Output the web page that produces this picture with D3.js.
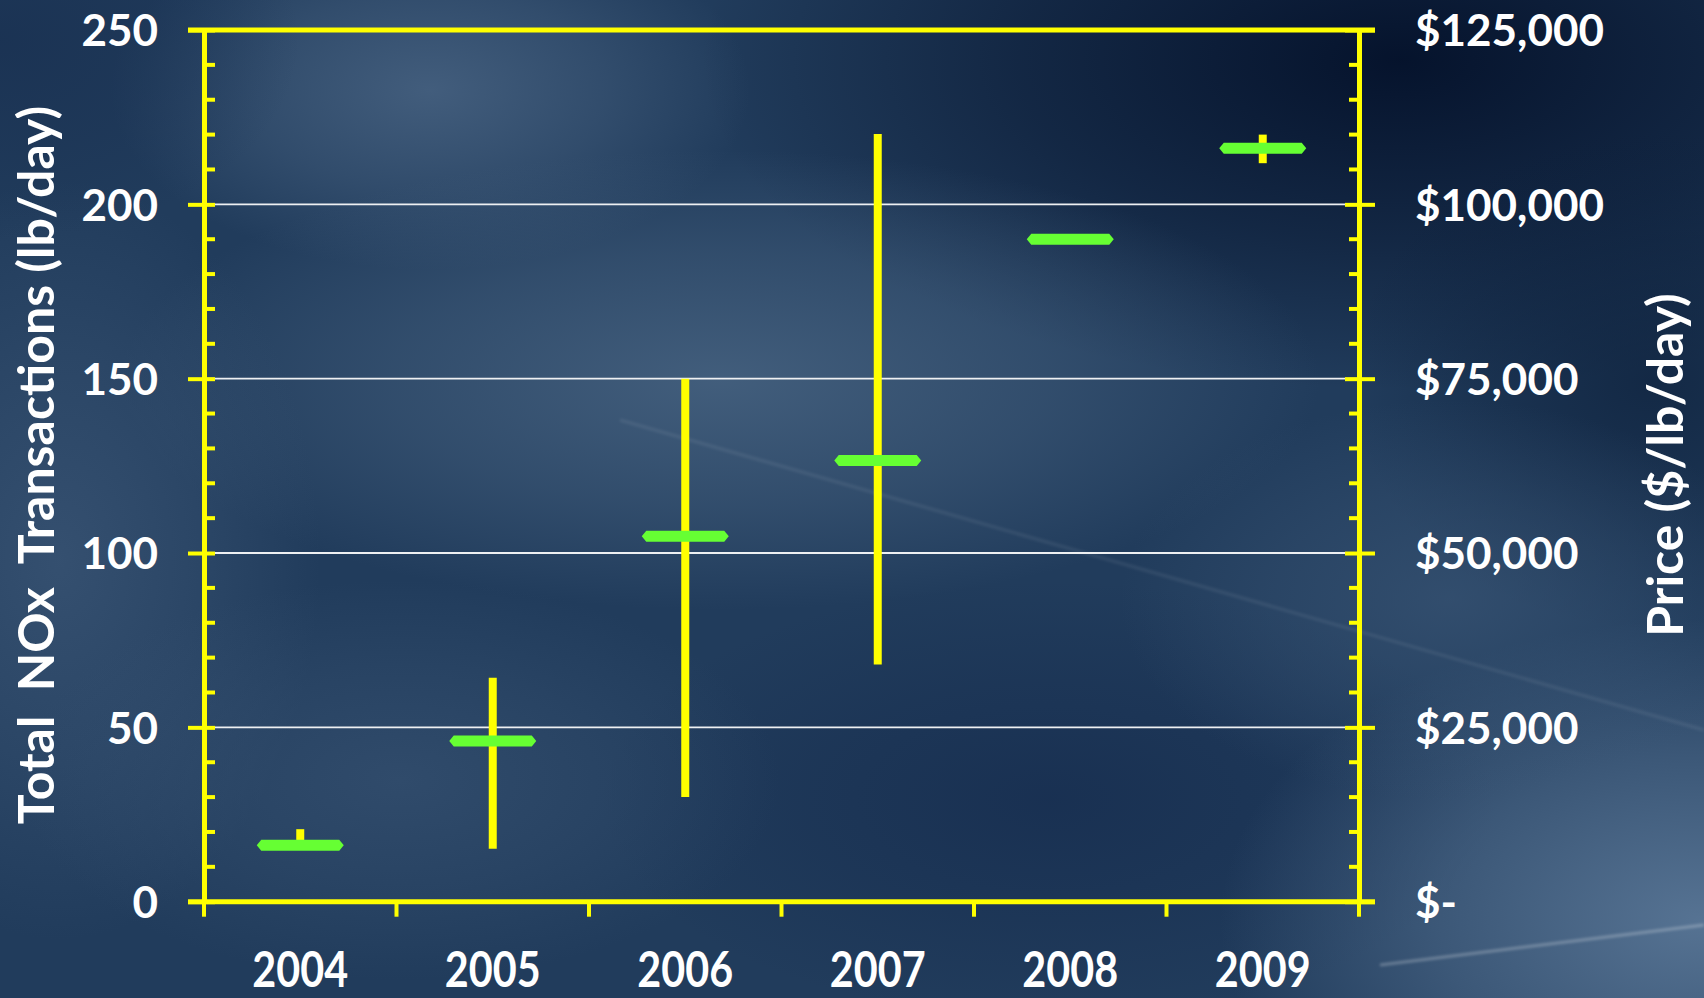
<!DOCTYPE html>
<html>
<head>
<meta charset="utf-8">
<script src="https://cdn.jsdelivr.net/npm/d3@7"></script>
<style>
  html, body { margin: 0; padding: 0; background: #1f3959; }
  svg { display: block; }
  text { font-family: Lato, "Open Sans", sans-serif; font-weight: 700; fill: #fff; }
</style>
</head>
<body>
<div id="chart"></div>
<script>
const years = ["2004", "2005", "2006", "2007", "2008", "2009"];
// green markers, left axis (lb/day)
const totalNOx = [16.2, 46.1, 104.8, 126.5, 190, 216.1];
// yellow high-low lines, right axis ($/lb/day)
const priceLow = [8850, 7600, 15000, 34000, 95000, 105900];
const priceHigh = [10400, 32100, 75000, 110100, 95000, 110000];
const leftTicks = [0, 50, 100, 150, 200, 250];
const rightTicks = [0, 25000, 50000, 75000, 100000, 125000];

const width = 1704;
const height = 998;
const plotLeft = 204, plotRight = 1359, plotTop = 30, plotBottom = 901.7;

const svg = d3.select("#chart").append("svg")
  .attr("width", width)
  .attr("height", height);

// background: soft radial blobs
const defs = svg.append("defs");
defs.append("filter").attr("id", "soft")
  .append("feGaussianBlur").attr("stdDeviation", 1.5);

const bg = svg.append("g");
bg.append("rect").attr("width", width).attr("height", height).attr("fill", "#213c5c");
const blobs = [
  { cx: 1400, cy: 60, rx: 700, ry: 330, fill: "#04112a", o: 0.95 },
  { cx: 1650, cy: 380, rx: 300, ry: 250, fill: "#0a1c36", o: 0.6 },
  { cx: 430, cy: 90, rx: 320, ry: 180, fill: "#4d6887", o: 0.75 },
  { cx: 720, cy: 380, rx: 600, ry: 230, fill: "#4a6684", o: 0.8 },
  { cx: 1050, cy: 800, rx: 450, ry: 220, fill: "#12274a", o: 0.55 },
  { cx: 1700, cy: 920, rx: 480, ry: 300, fill: "#5c7999", o: 0.9 },
  { cx: 1450, cy: 600, rx: 330, ry: 200, fill: "#3d5979", o: 0.6 },
  { cx: 60, cy: 560, rx: 260, ry: 380, fill: "#3d5878", o: 0.7 },
  { cx: 400, cy: 780, rx: 380, ry: 200, fill: "#3a5575", o: 0.6 },
  { cx: 0, cy: 40, rx: 300, ry: 200, fill: "#182f50", o: 0.7 }
];
blobs.forEach((b, i) => {
  const g = defs.append("radialGradient").attr("id", "bg" + i);
  g.append("stop").attr("offset", "0%").attr("stop-color", b.fill).attr("stop-opacity", b.o);
  g.append("stop").attr("offset", "55%").attr("stop-color", b.fill).attr("stop-opacity", b.o * 0.5);
  g.append("stop").attr("offset", "100%").attr("stop-color", b.fill).attr("stop-opacity", 0);
});
bg.selectAll("ellipse").data(blobs).join("ellipse")
  .attr("cx", d => d.cx).attr("cy", d => d.cy)
  .attr("rx", d => d.rx).attr("ry", d => d.ry)
  .attr("fill", (d, i) => `url(#bg${i})`);
bg.append("line").attr("x1", 620).attr("y1", 420).attr("x2", 1704).attr("y2", 730)
  .attr("stroke", "#fff").attr("stroke-width", 3).attr("opacity", 0.08).attr("filter", "url(#soft)");
bg.append("line").attr("x1", 1380).attr("y1", 965).attr("x2", 1704).attr("y2", 925)
  .attr("stroke", "#fff").attr("stroke-width", 2.5).attr("opacity", 0.3).attr("filter", "url(#soft)");

// scales
const x = d3.scaleBand().domain(years).range([plotLeft, plotRight]);
const yL = d3.scaleLinear().domain([0, 250]).range([plotBottom, plotTop]);
const yR = d3.scaleLinear().domain([0, 125000]).range([plotBottom, plotTop]);

// gridlines
svg.append("g")
  .selectAll("line")
  .data(leftTicks.filter(d => d > 0 && d < 250))
  .join("line")
  .attr("x1", plotLeft).attr("x2", plotRight)
  .attr("y1", d => yL(d)).attr("y2", d => yL(d))
  .attr("stroke", "#eef0f2").attr("stroke-width", 1.8);

const yellow = "#ffff00";

// minor ticks
const minorL = d3.range(0, 251, 10).filter(d => d % 50 !== 0);
svg.append("g").selectAll("line").data(minorL).join("line")
  .attr("x1", plotLeft).attr("x2", plotLeft + 11)
  .attr("y1", d => yL(d)).attr("y2", d => yL(d))
  .attr("stroke", yellow).attr("stroke-width", 4);
const minorR = d3.range(0, 125001, 5000).filter(d => d % 25000 !== 0);
svg.append("g").selectAll("line").data(minorR).join("line")
  .attr("x1", plotRight - 10).attr("x2", plotRight)
  .attr("y1", d => yR(d)).attr("y2", d => yR(d))
  .attr("stroke", yellow).attr("stroke-width", 4);

// left axis
const axL = svg.append("g")
  .attr("transform", `translate(${plotLeft},0)`)
  .call(d3.axisLeft(yL).tickValues(leftTicks).tickSizeOuter(0).tickSizeInner(16).tickPadding(30));
axL.select(".domain").attr("stroke", yellow).attr("stroke-width", 5);
axL.selectAll(".tick line").attr("x1", 11).attr("x2", -16).attr("stroke", yellow).attr("stroke-width", 4);
axL.selectAll(".tick text").attr("font-size", 44).attr("font-family", "Lato").attr("fill", "#fff").attr("dy", "0.36em");

// right axis
const axR = svg.append("g")
  .attr("transform", `translate(${plotRight},0)`)
  .call(d3.axisRight(yR).tickValues(rightTicks).tickSizeOuter(0).tickSizeInner(16)
    .tickPadding(40).tickFormat(d => d === 0 ? "$-" : "$" + d3.format(",")(d)));
axR.select(".domain").attr("stroke", yellow).attr("stroke-width", 5);
axR.selectAll(".tick line").attr("x1", -14).attr("x2", 16).attr("stroke", yellow).attr("stroke-width", 4);
axR.selectAll(".tick text").attr("font-size", 44).attr("font-family", "Lato").attr("fill", "#fff").attr("dy", "0.36em");

// top frame line
svg.append("line")
  .attr("x1", plotLeft - 16).attr("x2", plotRight + 16)
  .attr("y1", yL(250)).attr("y2", yL(250))
  .attr("stroke", yellow).attr("stroke-width", 5);

// bottom axis
const axB = svg.append("g")
  .attr("transform", `translate(0,${plotBottom})`)
  .call(d3.axisBottom(x).tickSize(0).tickPadding(0));
axB.select(".domain").remove();
axB.append("line").attr("x1", plotLeft - 16).attr("x2", plotRight + 16)
  .attr("stroke", yellow).attr("stroke-width", 5);
axB.selectAll(".tick text")
  .attr("font-size", 48).attr("font-family", "Lato").attr("fill", "#fff")
  .attr("y", 0).attr("dy", 0)
  .attr("transform", "translate(0,85) scale(0.86,1.04)");
const bounds = years.map(d => x(d)).concat([x.range()[1]]);
axB.selectAll(".bound").data(bounds).join("line")
  .attr("class", "bound")
  .attr("x1", d => d).attr("x2", d => d)
  .attr("y1", 0).attr("y2", 15)
  .attr("stroke", yellow).attr("stroke-width", 4);

// high-low lines
svg.append("g").selectAll("line").data(years).join("line")
  .attr("x1", d => x(d) + x.bandwidth() / 2)
  .attr("x2", d => x(d) + x.bandwidth() / 2)
  .attr("y1", (d, i) => yR(priceLow[i]))
  .attr("y2", (d, i) => yR(priceHigh[i]))
  .attr("stroke", yellow).attr("stroke-width", 8);

// markers
const hw = 43.5, hh = 5.5, pt = 4.5;
const hex = `M${-hw},0L${-hw + pt},${-hh}L${hw - pt},${-hh}L${hw},0L${hw - pt},${hh}L${-hw + pt},${hh}Z`;
svg.append("g").selectAll("path").data(years).join("path")
  .attr("d", hex)
  .attr("transform", (d, i) => `translate(${x(d) + x.bandwidth() / 2},${yL(totalNOx[i])})`)
  .attr("fill", "#66ff33");

// axis titles
svg.append("text")
  .attr("transform", `translate(54,465) rotate(-90)`)
  .attr("text-anchor", "middle")
  .attr("font-size", 50)
  .style("white-space", "pre")
  .text("Total  NOx  Transactions (lb/day)");
svg.append("text")
  .attr("transform", `translate(1683,465) rotate(-90)`)
  .attr("text-anchor", "middle")
  .attr("font-size", 50)
  .text("Price ($/lb/day)");
</script>
</body>
</html>
